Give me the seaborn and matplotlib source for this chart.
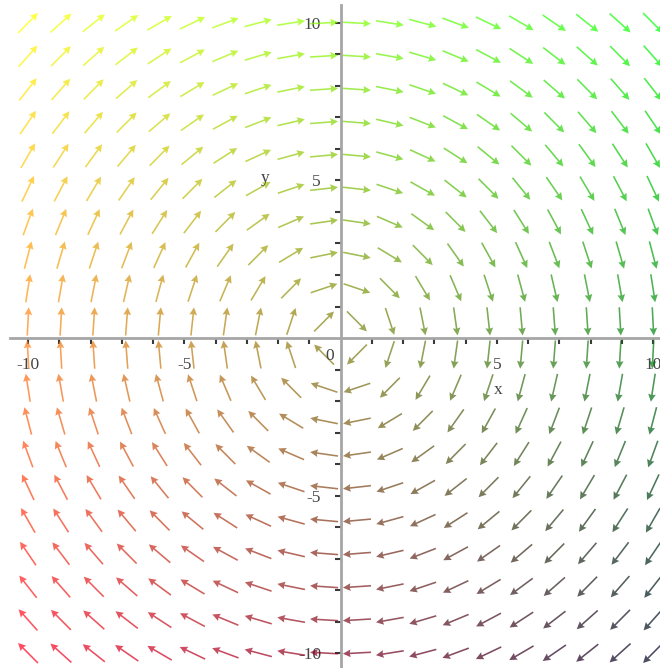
#!/usr/bin/env python3
"""
벡터장 F(x, y) = (y, -x) 시각화 스크립트 (회전하는 장)
"""

import numpy as np
import matplotlib
matplotlib.use("Agg")
import matplotlib.pyplot as plt
import seaborn as sns

# [격자 좌표]
# - [-10, 10] 구간을 20개 점으로 나눈 격자 (간격 20/19)
grid_points = [-10.0, -8.947, -7.895, -6.842, -5.789, -4.737, -3.684, -2.632,
               -1.579, -0.526, 0.526, 1.579, 2.632, 3.684, 4.737, 5.789,
               6.842, 7.895, 8.947, 10.0]

# 눈금 라벨이 붙는 값과 작은 눈금 값
major_ticks = [-10, -5, 5, 10]
minor_ticks = [-10, -9, -8, -7, -6, -5, -4, -3, -2, -1,
               1, 2, 3, 4, 5, 6, 7, 8, 9, 10]

# 축 이름
x_name = "x"
y_name = "y"


def field(x, y):
    """벡터장 정의: F(x, y) = (y, -x)"""
    return y, -x


def arrow_colors(x, y, alpha):
    """
    위치에 따라 화살표 색을 정한다.
    왼쪽일수록 빨강, 위쪽일수록 초록 (왼쪽 위 = 노랑, 오른쪽 아래 = 검정)
    """
    r = (10 - x) / 20
    g = (y + 10) / 20
    b = 0.12 * (10 - y) / 20
    a = np.full_like(r, alpha)
    return np.column_stack([r.ravel(), g.ravel(), b.ravel(), a.ravel()])


def main():
    sns.set_theme(style="white")
    plt.rcParams["font.family"] = ["Liberation Serif", "DejaVu Serif"]

    fig = plt.figure(figsize=(6.6, 6.68), dpi=100)
    ax = fig.add_axes([0, 0, 1, 1])

    X, Y = np.meshgrid(np.array(grid_points), np.array(grid_points))
    U, V = field(X, Y)

    # 모든 화살표는 같은 길이로 (방향만 표시)
    mag = np.hypot(U, V)
    arrow_len = 0.9
    ax.quiver(
        X, Y, U / mag, V / mag,
        color=arrow_colors(X, Y, 0.7),
        pivot="mid",
        angles="xy",
        scale_units="xy",
        scale=1 / arrow_len,
        units="dots",
        width=1.6,
        headwidth=4.8,
        headlength=4.8,
        headaxislength=4.3,
        zorder=1,
    )

    ax.set_xlim(-10.896, 10.224)
    ax.set_ylim(-10.476, 10.730)

    # 원점을 지나는 축선
    ax.spines[["top", "right"]].set_visible(False)
    for side in ["left", "bottom"]:
        ax.spines[side].set_position(("data", 0))
        ax.spines[side].set_color("#a6a6a6")
        ax.spines[side].set_linewidth(2)
    ax.spines["bottom"].set_bounds(-10.58, 10.22)
    ax.spines["left"].set_bounds(-10.48, 10.57)

    ax.set_xticks(major_ticks)
    ax.set_yticks(major_ticks)
    ax.set_xticks(minor_ticks, minor=True)
    ax.set_yticks(minor_ticks, minor=True)
    ax.set_xticklabels([str(t) for t in major_ticks])
    ax.set_yticklabels([str(t) for t in major_ticks])
    ax.tick_params(which="both", direction="out", length=4, width=1.5,
                   color="#3a3a3a", labelsize=12.5, pad=10,
                   labelcolor="#444444", bottom=True, left=True)

    # 원점 라벨과 축 이름
    ax.text(-0.34, -0.57, "0", ha="center", va="center",
            fontsize=12.5, color="#444444")
    ax.text(5.05, -1.65, x_name, ha="center", va="center",
            fontsize=12.5, color="#444444")
    ax.text(-2.4, 5.08, y_name, ha="center", va="center",
            fontsize=12.5, color="#444444")

    fig.savefig("out.png", dpi=100)
    plt.close(fig)


if __name__ == "__main__":
    main()
